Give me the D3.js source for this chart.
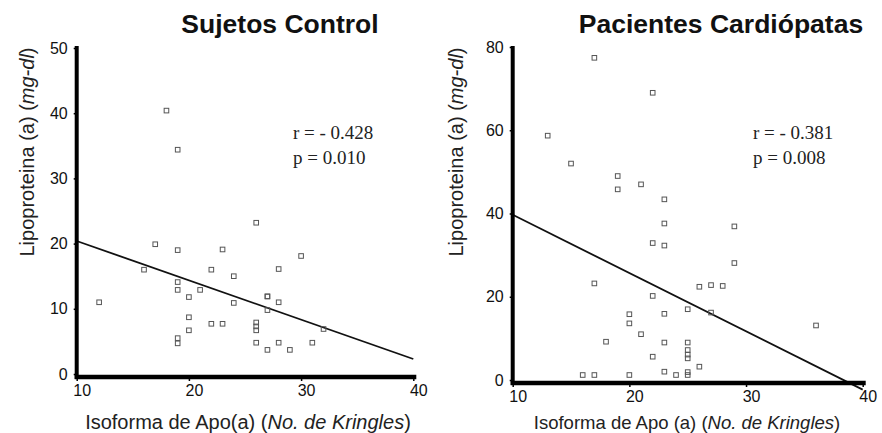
<!DOCTYPE html>
<html>
<head>
    <meta charset="utf-8">
    <title>Lp(a) vs isoforma de Apo(a)</title>
    <script src="https://d3js.org/d3.v7.min.js"></script>
    <style>
        body { margin: 0; background: #fff; }
        .axis path, .axis line { stroke: #000; }
        .axis text { font: 16px 'Liberation Sans', Arial, sans-serif; fill: #111; }
        .title { font: bold 26.5px 'Liberation Sans', Arial, sans-serif; fill: #111; }
        .lab { font-family: 'Liberation Sans', Arial, sans-serif; fill: #222; }
        .stat { font: 19px 'Liberation Serif', 'Times New Roman', serif; fill: #222; }
    </style>
</head>
<body>
<script>
    // Sujetos Control: [kringles, Lp(a) mg/dl]
    var controlX = [12, 18, 19, 17, 19, 16, 19, 19, 20, 21, 20, 20, 19, 19, 22, 23, 22, 23, 24, 24,
                    26, 26, 26, 26, 26, 27, 27, 27, 27, 28, 28, 28, 29, 30, 31, 32];
    var controlY = [11, 40.4, 34.4, 19.9, 19, 16, 14.1, 12.9, 11.8, 12.9, 8.7, 6.7, 5.5, 4.7, 16, 19.1, 7.7, 7.7, 15, 10.9,
                    23.2, 7.9, 7.3, 6.7, 4.8, 11.9, 9.8, 3.7, 11.9, 16.1, 11, 4.8, 3.7, 18.1, 4.8, 6.9];
    var controlFit = [20.4, 2.3];   // recta en x = 10 y x = 40
    var controlStats = ["r = - 0.428", "p = 0.010"];

    // Pacientes Cardiópatas
    var pacX = [17, 22, 13, 15, 19, 19, 21, 23, 23, 22, 23, 29, 29, 17, 22, 26, 27, 28, 25, 27,
                23, 20, 20, 36, 21, 18, 23, 25, 25, 25, 25, 22, 26, 23, 16, 17, 20, 24, 25, 25];
    var pacY = [77.4, 69, 58.7, 52, 49, 45.8, 47, 43.4, 37.6, 32.9, 32.3, 36.9, 28.1, 23.2, 20.2, 22.4, 22.8, 22.6, 17, 16.2,
                15.9, 15.8, 13.6, 13.1, 11, 9.2, 9, 9, 7.2, 6.1, 5.2, 5.6, 3.2, 2, 1.2, 1.2, 1.2, 1.2, 1.2, 1.9];
    var pacFit = [39.7, -2.3];
    var pacStats = ["r = - 0.381", "p = 0.008"];

    var xTicks = [10, 20, 30, 40];
    var controlYTicks = [0, 10, 20, 30, 40, 50];
    var pacYTicks = [0, 20, 40, 60, 80];

    var svg = d3.select("body").append("svg")
        .attr("width", 882)
        .attr("height", 433);

    var panels = [
        { title: "Sujetos Control", tx: 280, xs: controlX, ys: controlY, fit: controlFit, stats: controlStats,
          yTicks: controlYTicks, yMax: 50, xr: [76.7, 413.3], yr: [374, 48], axisY: 377, axisTop: 46,
          statX: 293, yLabX: 27, yLabSize: 20,
          xLab: "Isoforma de Apo(a) ", xLabX: 248, xLabSize: 20 },
        { title: "Pacientes Cardiópatas", tx: 721, xs: pacX, ys: pacY, fit: pacFit, stats: pacStats,
          yTicks: pacYTicks, yMax: 80, xr: [512.7, 862.7], yr: [380, 47], axisY: 383, axisTop: 46,
          statX: 753, yLabX: 456, yLabSize: 20,
          xLab: "Isoforma de Apo (a) ", xLabX: 687, xLabSize: 18.5 }
    ];

    panels.forEach(function(p) {
        var x = d3.scaleLinear().domain([10, 40]).range(p.xr);
        var y = d3.scaleLinear().domain([0, p.yMax]).range(p.yr);

        svg.append("text").attr("class", "title")
            .attr("x", p.tx).attr("y", 33)
            .attr("text-anchor", "middle")
            .text(p.title);

        // regression line
        svg.append("line")
            .attr("x1", x(10)).attr("y1", y(p.fit[0]))
            .attr("x2", x(40)).attr("y2", y(p.fit[1]))
            .attr("stroke", "#111").attr("stroke-width", 1.8);

        // points
        svg.append("g").selectAll("rect")
            .data(d3.range(p.xs.length))
            .enter().append("rect")
            .attr("x", function(i) { return x(p.xs[i]) - 2.3; })
            .attr("y", function(i) { return y(p.ys[i]) - 2.3; })
            .attr("width", 4.6).attr("height", 4.6)
            .attr("fill", "none")
            .attr("stroke", "#555")
            .attr("stroke-width", 1);

        // x axis
        var gx = svg.append("g").attr("class", "axis")
            .attr("transform", "translate(0," + p.axisY + ")")
            .call(d3.axisBottom(x).tickValues(xTicks).tickSize(4).tickSizeOuter(0));
        gx.select(".domain").attr("stroke-width", 4.5)
            .attr("d", "M" + (x(10) - 2) + ",0H" + (x(40) + 3));
        gx.selectAll(".tick line").attr("stroke-width", 1.5);
        gx.selectAll("text").attr("y", 8).attr("dx", 5);

        // y axis
        var gy = svg.append("g").attr("class", "axis")
            .attr("transform", "translate(" + x(10) + ",0)")
            .call(d3.axisLeft(y).tickValues(p.yTicks).tickSize(3).tickSizeOuter(0));
        gy.select(".domain").attr("stroke-width", 4)
            .attr("d", "M0," + p.axisTop + "V" + (p.axisY + 2));
        gy.selectAll(".tick line").attr("stroke-width", 1.5);
        gy.selectAll("text").attr("x", -9);

        // stats
        svg.append("text").attr("class", "stat")
            .attr("x", p.statX).attr("y", 139).text(p.stats[0]);
        svg.append("text").attr("class", "stat")
            .attr("x", p.statX).attr("y", 164).text(p.stats[1]);

        // y label
        var yl = svg.append("text").attr("class", "lab")
            .attr("transform", "translate(" + p.yLabX + ",152) rotate(-90)")
            .attr("text-anchor", "middle")
            .attr("dy", "0.35em")
            .style("font-size", p.yLabSize + "px");
        yl.append("tspan").text("Lipoproteina (a) (");
        yl.append("tspan").attr("font-style", "italic").text("mg-dl");
        yl.append("tspan").text(")");

        // x label
        var xl = svg.append("text").attr("class", "lab")
            .attr("x", p.xLabX).attr("y", 429)
            .attr("text-anchor", "middle")
            .style("font-size", p.xLabSize + "px");
        xl.append("tspan").text(p.xLab + "(");
        xl.append("tspan").attr("font-style", "italic").text("No. de Kringles");
        xl.append("tspan").text(")");
    });
</script>
</body>
</html>
